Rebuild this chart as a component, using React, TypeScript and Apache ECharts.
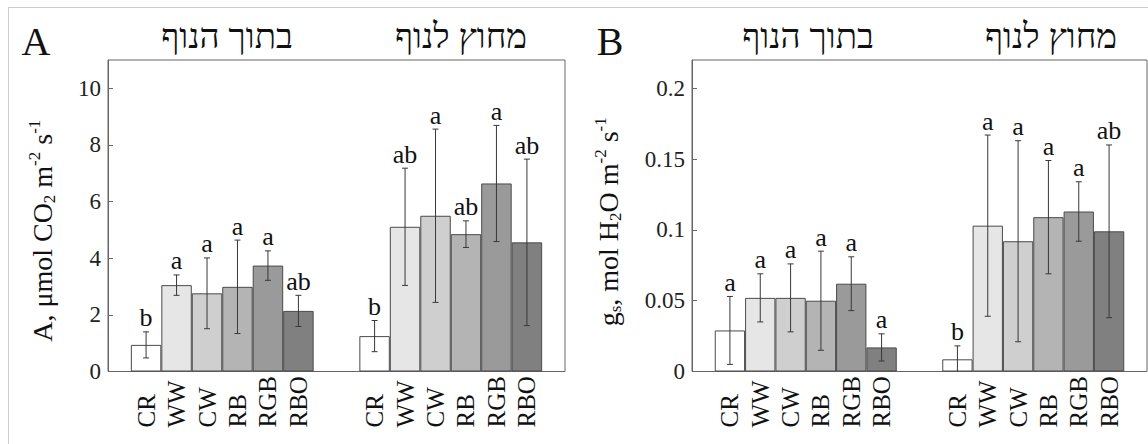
import React, { useEffect, useRef } from "react";
import * as echarts from "echarts";

// ---- data ----
const CATEGORIES = ["CR", "WW", "CW", "RB", "RGB", "RBO"];
const GROUP_TITLES = ["בתוך הנוף", "מחוץ לנוף"];

// Panel A: photosynthesis, µmol CO2 m-2 s-1
const A_IN_MEAN = [0.94, 3.05, 2.76, 2.99, 3.74, 2.14];
const A_IN_ERR = [0.46, 0.36, 1.25, 1.65, 0.52, 0.55];
const A_IN_LETTERS = ["b", "a", "a", "a", "a", "ab"];
const A_OUT_MEAN = [1.25, 5.11, 5.5, 4.85, 6.64, 4.56];
const A_OUT_ERR = [0.55, 2.07, 3.06, 0.47, 2.05, 2.94];
const A_OUT_LETTERS = ["b", "ab", "a", "ab", "a", "ab"];

// Panel B: stomatal conductance, mol H2O m-2 s-1
const GS_IN_MEAN = [0.029, 0.052, 0.052, 0.05, 0.062, 0.017];
const GS_IN_ERR = [0.024, 0.017, 0.024, 0.035, 0.019, 0.0096];
const GS_IN_LETTERS = ["a", "a", "a", "a", "a", "a"];
const GS_OUT_MEAN = [0.0086, 0.103, 0.092, 0.109, 0.113, 0.099];
const GS_OUT_ERR = [0.0095, 0.064, 0.071, 0.04, 0.021, 0.061];
const GS_OUT_LETTERS = ["b", "a", "a", "a", "a", "ab"];

const A_TICKS = { min: 0, max: 11, interval: 2 };
const GS_TICKS = { min: 0, max: 0.22, interval: 0.05 };

// ---- layout / style ----
const FONT = "'Liberation Serif', 'Times New Roman', Times, serif";
const HEB_FONT = "'Liberation Serif', 'DejaVu Serif', 'Times New Roman', serif";
const BAR_COLORS = ["#ffffff", "#e6e6e6", "#cfcfcf", "#b4b4b4", "#9a9a9a", "#808080"];
const SLOTS = 15;
const PAD = 0.75;
const GAP = 1.5;
const xPos = (g: number, i: number) => PAD + g * (CATEGORIES.length + GAP) + i + 0.5;
const ALL_X: number[] = [];
for (let g = 0; g < 2; g++) for (let i = 0; i < CATEGORIES.length; i++) ALL_X.push(xPos(g, i));

const GRID_A = { left: 108, top: 60, width: 457, height: 311.5 };
const GRID_B = { left: 692, top: 60, width: 455, height: 311.5 };

function catFormatter(v: number) {
  const idx = ALL_X.findIndex((p) => Math.abs(p - v) < 1e-6);
  return idx >= 0 ? CATEGORIES[idx % CATEGORIES.length] : "";
}

function barSeries(axisIndex: number, inMean: number[], outMean: number[], width: number) {
  const data: any[] = [];
  [inMean, outMean].forEach((arr, g) =>
    arr.forEach((v, i) =>
      data.push({ value: [xPos(g, i), v], itemStyle: { color: BAR_COLORS[i] } })
    )
  );
  return {
    type: "bar",
    xAxisIndex: axisIndex,
    yAxisIndex: axisIndex,
    barWidth: width / SLOTS,
    itemStyle: { borderColor: "#4a4a4a", borderWidth: 1 },
    data,
  };
}

function errSeries(
  axisIndex: number,
  inMean: number[],
  inErr: number[],
  outMean: number[],
  outErr: number[],
  inLetters: string[],
  outLetters: string[]
) {
  const data: number[][] = [];
  const letters: string[] = [];
  [
    [inMean, inErr, inLetters],
    [outMean, outErr, outLetters],
  ].forEach((grp: any, g) =>
    grp[0].forEach((m: number, i: number) => {
      data.push([xPos(g, i), m, grp[1][i]]);
      letters.push(grp[2][i]);
    })
  );
  return {
    type: "custom",
    xAxisIndex: axisIndex,
    yAxisIndex: axisIndex,
    encode: { x: 0, y: 1 },
    z: 5,
    renderItem: (params: any, api: any) => {
      const x = api.value(0);
      const m = api.value(1);
      const e = api.value(2);
      const lowClamped = m - e < 0;
      const top = api.coord([x, m + e]);
      const bot = api.coord([x, Math.max(0, m - e)]);
      const st = { stroke: "#383838", lineWidth: 1 };
      const c = 3;
      const children: any[] = [
        { type: "line", shape: { x1: top[0], y1: top[1], x2: bot[0], y2: bot[1] }, style: st },
        { type: "line", shape: { x1: top[0] - c, y1: top[1], x2: top[0] + c, y2: top[1] }, style: st },
        {
          type: "text",
          x: top[0],
          y: top[1] - 1,
          style: {
            text: letters[params.dataIndex],
            fontFamily: FONT,
            fontSize: 26,
            fill: "#111",
            align: "center",
            verticalAlign: "bottom",
          },
        },
      ];
      if (!lowClamped) {
        children.push({
          type: "line",
          shape: { x1: bot[0] - c, y1: bot[1], x2: bot[0] + c, y2: bot[1] },
          style: st,
        });
      }
      return { type: "group", children };
    },
    data,
  };
}

function xAxis(gridIndex: number) {
  return {
    type: "value",
    gridIndex,
    min: 0,
    max: SLOTS,
    axisLine: { show: false },
    axisTick: { show: false },
    splitLine: { show: false },
    axisLabel: {
      customValues: ALL_X,
      formatter: catFormatter,
      rotate: 90,
      align: "left",
      verticalAlign: "middle",
      margin: 56,
      fontFamily: FONT,
      fontSize: 25,
      color: "#111",
    },
  };
}

function yAxis(gridIndex: number, ticks: any, name: string, nameGap: number, shift: number) {
  return {
    type: "value",
    gridIndex,
    min: ticks.min,
    max: ticks.max,
    interval: ticks.interval,
    name,
    nameLocation: "middle",
    nameRotate: 90,
    nameGap,
    nameTextStyle: {
      fontFamily: FONT,
      fontSize: 28,
      lineHeight: 32,
      color: "#111",
      padding: [0, shift, 0, 0],
      rich: {
        sub: { fontFamily: FONT, fontSize: 17, lineHeight: 17, verticalAlign: "bottom", color: "#111" },
        sup: { fontFamily: FONT, fontSize: 17, lineHeight: 17, verticalAlign: "top", color: "#111" },
      },
    },
    axisLine: { show: true, lineStyle: { color: "#666" } },
    axisTick: { show: true, inside: true, length: 5, lineStyle: { color: "#666" } },
    splitLine: { show: false },
    axisLabel: {
      showMaxLabel: false,
      margin: 7,
      fontFamily: FONT,
      fontSize: 23,
      color: "#222",
    },
  };
}

const textEl = (text: string, x: number, y: number, size: number, family = FONT) => ({
  type: "text",
  x,
  y,
  style: { text, fontFamily: family, fontSize: size, fill: "#111", align: "center", verticalAlign: "middle" },
});

export default function App() {
  const ref = useRef<HTMLDivElement>(null);
  useEffect(() => {
    if (!ref.current) return;
    const chart = echarts.init(ref.current, null, { renderer: "svg" });
    chart.setOption({
      animation: false,
      backgroundColor: "#ffffff",
      grid: [
        { ...GRID_A, show: true, borderColor: "#666", borderWidth: 1, backgroundColor: "transparent" },
        { ...GRID_B, show: true, borderColor: "#666", borderWidth: 1, backgroundColor: "transparent" },
      ],
      xAxis: [xAxis(0), xAxis(1)],
      yAxis: [
        yAxis(0, A_TICKS, "A, μmol CO{sub|2} m{sup|-2} s{sup|-1}", 50, 30),
        yAxis(1, GS_TICKS, "g{sub|s}, mol H{sub|2}O m{sup|-2} s{sup|-1}", 68, 12),
      ],
      graphic: [
        { type: "line", shape: { x1: 8, y1: 7.5, x2: 1148, y2: 7.5 }, style: { stroke: "#cccccc", lineWidth: 1 } },
        { type: "line", shape: { x1: 8.5, y1: 7, x2: 8.5, y2: 444 }, style: { stroke: "#cccccc", lineWidth: 1 } },
        textEl("A", 36, 41, 40),
        textEl("B", 610, 41, 40),
        textEl(GROUP_TITLES[0], 227, 36, 35, HEB_FONT),
        textEl(GROUP_TITLES[1], 461, 36, 35, HEB_FONT),
        textEl(GROUP_TITLES[0], 808, 36, 35, HEB_FONT),
        textEl(GROUP_TITLES[1], 1051, 36, 35, HEB_FONT),
      ],
      series: [
        barSeries(0, A_IN_MEAN, A_OUT_MEAN, GRID_A.width),
        errSeries(0, A_IN_MEAN, A_IN_ERR, A_OUT_MEAN, A_OUT_ERR, A_IN_LETTERS, A_OUT_LETTERS),
        barSeries(1, GS_IN_MEAN, GS_OUT_MEAN, GRID_B.width),
        errSeries(1, GS_IN_MEAN, GS_IN_ERR, GS_OUT_MEAN, GS_OUT_ERR, GS_IN_LETTERS, GS_OUT_LETTERS),
      ],
    });
    return () => chart.dispose();
  }, []);
  return (
    <div
      ref={ref}
      style={{ position: "absolute", left: 0, top: 0, width: 1148, height: 444 }}
    />
  );
}
